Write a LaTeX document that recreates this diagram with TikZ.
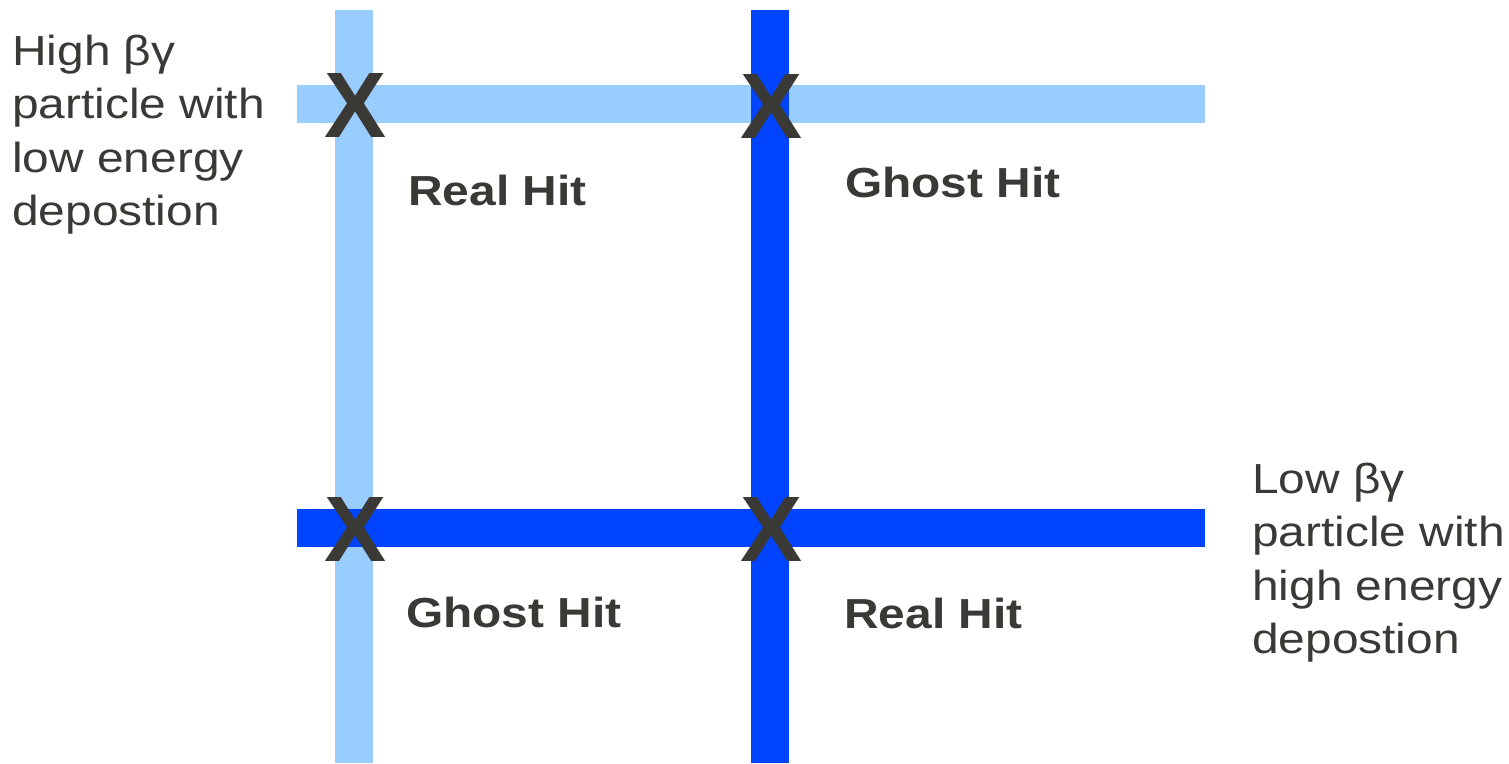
\documentclass[tikz,border=0pt]{standalone}
\usepackage{fontspec}
\setmainfont[FakeStretch=1.14]{Liberation Sans}
\newfontfamily\xfont{Liberation Sans}
\definecolor{lightbar}{HTML}{99CCFF}
\definecolor{darkbar}{HTML}{0044FF}
\definecolor{ink}{HTML}{3A3935}
\begin{document}
\begin{tikzpicture}[x=1pt,y=-1pt,
  lbar/.style={fill=lightbar,draw=none},
  dbar/.style={fill=darkbar,draw=none},
  xmark/.style={inner sep=0pt,anchor=base,text=ink,font=\xfont\bfseries\fontsize{93}{93}\selectfont},
  hitlabel/.style={inner sep=0pt,anchor=base west,text=ink,font=\bfseries\fontsize{42}{50}\selectfont},
  sidetext/.style={inner sep=0pt,anchor=base west,text=ink,align=left,font=\fontsize{42}{53.5}\selectfont}]
\useasboundingbox (0,0) rectangle (1509,763);
% light bars
\fill[lbar] (335,10) rectangle (373,763);
\fill[lbar] (297,85) rectangle (1205,123);
% dark bars
\fill[dbar] (751,10) rectangle (789,763);
\fill[dbar] (297,509) rectangle (1205,547);
% crossing marks
\node[xmark] (x11) at (356,137) {X};
\node[xmark] (x12) at (771.5,138.5) {X};
\node[xmark] (x21) at (356,561) {X};
\node[xmark] (x22) at (771.5,561) {X};
% hit labels
\node[hitlabel] (r1) at (408,205) {Real Hit};
\node[hitlabel] (g1) at (845,197) {Ghost Hit};
\node[hitlabel] (g2) at (406,627) {Ghost Hit};
\node[hitlabel] (r2) at (844,628) {Real Hit};
% side texts (anchored at the baseline of the last line)
\node[sidetext] (lefttext) at (12,225.5) {High βγ\\particle with\\low energy\\depostion};
\node[sidetext] (righttext) at (1252,653.5) {Low βγ\\particle with\\high energy\\depostion};
\end{tikzpicture}
\end{document}
